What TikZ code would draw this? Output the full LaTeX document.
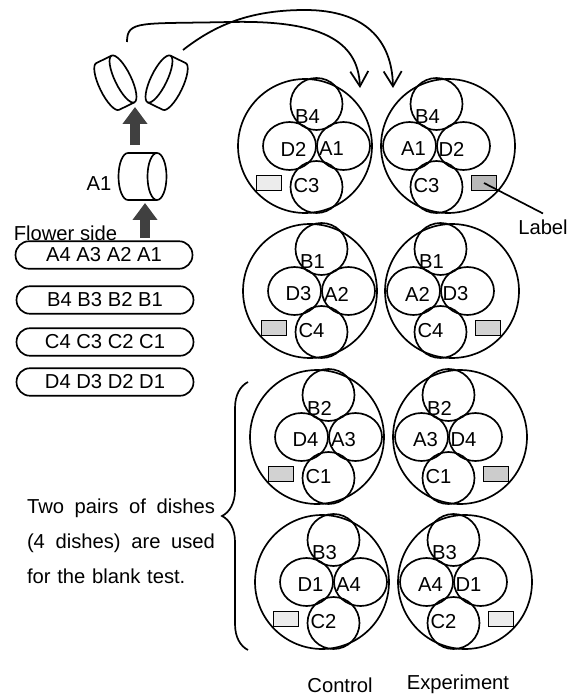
\documentclass[tikz,border=0pt]{standalone}
\usepackage{fontspec}
\setmainfont{Liberation Sans}
\usetikzlibrary{arrows.meta,shapes.geometric,decorations.pathreplacing}

\tikzset{
  dish/.style={circle, draw, minimum size=2.68cm, inner sep=0pt},
  seed/.style={circle, draw, minimum size=1.04cm, inner sep=0pt},
  side/.style={ellipse, draw, minimum width=1.06cm, minimum height=0.96cm, inner sep=0pt},
  tag/.style={draw, minimum width=0.5cm, minimum height=0.3cm, inner sep=0pt},
  txt/.style={inner sep=0pt},
  stalk/.style={draw, rounded corners=0.27cm, minimum width=3.54cm, minimum height=0.55cm, inner sep=0pt},
  push/.style={line width=0.2cm, draw=black!75, -{Triangle[length=0.34cm,width=0.48cm]}},
  move/.style={line width=1pt, -{Straight Barb[length=0.3cm,width=0.36cm]}},
}

\begin{document}
\begin{tikzpicture}[x=0.02cm, y=-0.02cm, line width=0.95pt, font=\fontsize{11.5}{14}\selectfont]
        \useasboundingbox (0,0) rectangle (575,696);

        % stalks of the four flowers
        \node[txt, anchor=west] (flower) at (13,233) {Flower side};
        \node[stalk] (stA) at (104,255) {A4 A3 A2 A1};
        \node[stalk] (stB) at (105,300) {B4 B3 B2 B1};
        \node[stalk] (stC) at (105,342) {C4 C3 C2 C1};
        \node[stalk] (stD) at (105,382) {D4 D3 D2 D1};

        % piece A1 and its two halves
        \draw (157,153) -- (128,153) arc[start angle=270, end angle=90, x radius=9.5, y radius=23.5] -- (157,200);
        \draw (157,176.5) ellipse [x radius=9.5, y radius=23.5];
        \node[txt] (head) at (99,184) {A1};

        \begin{scope}[shift={(123,79)}, rotate=26]
            \draw (0,-26) -- (-17,-26) arc[start angle=270, end angle=90, x radius=8, y radius=26] -- (0,26);
            \draw (0,0) ellipse [x radius=8, y radius=26];
        \end{scope}
        \begin{scope}[shift={(159,79)}, rotate=154]
            \draw (0,-26) -- (-17,-26) arc[start angle=270, end angle=90, x radius=8, y radius=26] -- (0,26);
            \draw (0,0) ellipse [x radius=8, y radius=26];
        \end{scope}

        \coordinate (upA) at (145,238);
        \coordinate (upB) at (145,203);
        \coordinate (upC) at (135,145);
        \coordinate (upD) at (135,107);
        \draw[push] (upA) -- (upB);
        \draw[push] (upC) -- (upD);

        % halves go to the two dishes
        \coordinate (lpTop) at (127,42);
        \coordinate (rpTop) at (183,50);
        \coordinate (inC) at (360,88);
        \coordinate (inE) at (393,88);
        \draw[move] (lpTop) .. controls (127,20) and (140,24) .. (230,22) .. controls (320,20) and (358,40) .. (inC);
        \draw[move] (rpTop) .. controls (215,25) and (250,10) .. (305,10) .. controls (365,10) and (392,40) .. (inE);

        % dishes
        \foreach \n/\dx/\dy/\s/\tb/\tl/\tr/\tc/\f in {
            c1/305/146/1/B4/D2/A1/C3/gray!15,
            e1/448/146/-1/B4/A1/D2/C3/gray!55,
            c2/310/291/1/B1/D3/A2/C4/gray!35,
            e2/452/291/-1/B1/A2/D3/C4/gray!35,
            c3/317/437/1/B2/D4/A3/C1/gray!35,
            e3/460/437/-1/B2/A3/D4/C1/gray!40,
            c4/322/582/1/B3/D1/A4/C2/gray!15,
            e4/465/582/-1/B3/A4/D1/C2/gray!15}{
            \begin{scope}[shift={(\dx,\dy)}]
                \node[dish] (d\n) at (0,0) {};
                \node[seed] (t\n) at ({\s*11.5},-42) {};
                \node[seed] (b\n) at ({\s*11.5},41) {};
                \node[side] (l\n) at ({\s*11.5-27},0) {};
                \node[side] (r\n) at ({\s*11.5+27},0) {};
                \node[tag, fill=\f] (box\n) at ({-\s*36},37) {};
                \node[txt] (tt\n) at ({\s*11.5-9},-29) {\tb};
                \node[txt] (tl\n) at ({\s*11.5-23},3) {\tl};
                \node[txt] (tr\n) at ({\s*11.5+15},3) {\tr};
                \node[txt] (tc\n) at ({\s*11.5-10},40) {\tc};
            \end{scope}
        }

        \node[inner sep=3pt] (lbl) at (543,227) {Label};
        \draw (boxe1.center) -- (lbl.north);

        % blank test
        \draw[decorate, decoration={brace, amplitude=0.52cm}] (248,650) -- (248,382);
        \node[txt, text width=3.76cm, align=left, font=\fontsize{11.5}{19.8}\selectfont] (blank) at (121,541)
            {Two \hfill pairs \hfill of \hfill dishes\\ (4 \hfill dishes) \hfill are \hfill used\\ for the blank test.};

        \node[txt] (ctl) at (340,685) {Control};
        \node[txt] (exp) at (458,684) {Experiment};
\end{tikzpicture}
\end{document}
